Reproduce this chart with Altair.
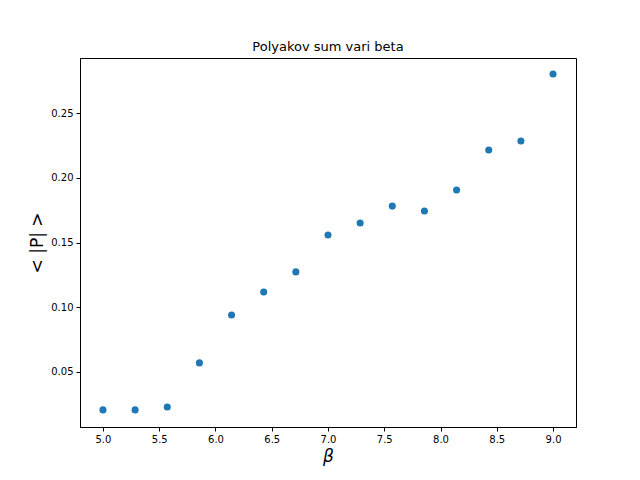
import altair as alt
import pandas as pd

beta = [5.0, 5.2857, 5.5714, 5.8571, 6.1429, 6.4286, 6.7143, 7.0, 7.2857, 7.5714, 7.8571, 8.1429, 8.4286, 8.7143, 9.0]
polyakov = [0.0207, 0.0207, 0.0230, 0.0570, 0.0940, 0.1118, 0.1273, 0.1558, 0.1651, 0.1781, 0.1743, 0.1905, 0.2214, 0.2284, 0.2802]

df = pd.DataFrame({"beta": beta, "P": polyakov})

chart = alt.Chart(df).mark_circle(size=50, opacity=1, color="#1f77b4").encode(
    x=alt.X("beta:Q", scale=alt.Scale(domain=[4.796, 9.204], nice=False, zero=False),
            axis=alt.Axis(values=[5.0, 5.5, 6.0, 6.5, 7.0, 7.5, 8.0, 8.5, 9.0], format=".1f",
                          title="β", titleFontStyle="italic", titleFontSize=17, titleFontWeight="normal")),
    y=alt.Y("P:Q", scale=alt.Scale(domain=[0.0075, 0.2925], nice=False, zero=False),
            axis=alt.Axis(values=[0.05, 0.10, 0.15, 0.20, 0.25], format=".2f",
                          title="< |P| >", titleFontSize=17, titleFontWeight="normal")),
).properties(
    width=496, height=369,
    title=alt.TitleParams("Polyakov sum vari beta", fontSize=13, fontWeight="normal", font="DejaVu Sans"),
    autosize=alt.AutoSizeParams(type="none"),
    padding={"left": 72, "top": 50, "right": 56, "bottom": 45},
).configure_axis(
    grid=False, labelFont="DejaVu Sans", titleFont="DejaVu Sans", labelFontSize=10,
    labelColor="black", titleColor="black", domainColor="black", tickColor="black",
    tickSize=4, labelPadding=3,
).configure_view(stroke="black", strokeWidth=1)

chart.save("out.html", embed_options={"renderer": "svg", "actions": False})
